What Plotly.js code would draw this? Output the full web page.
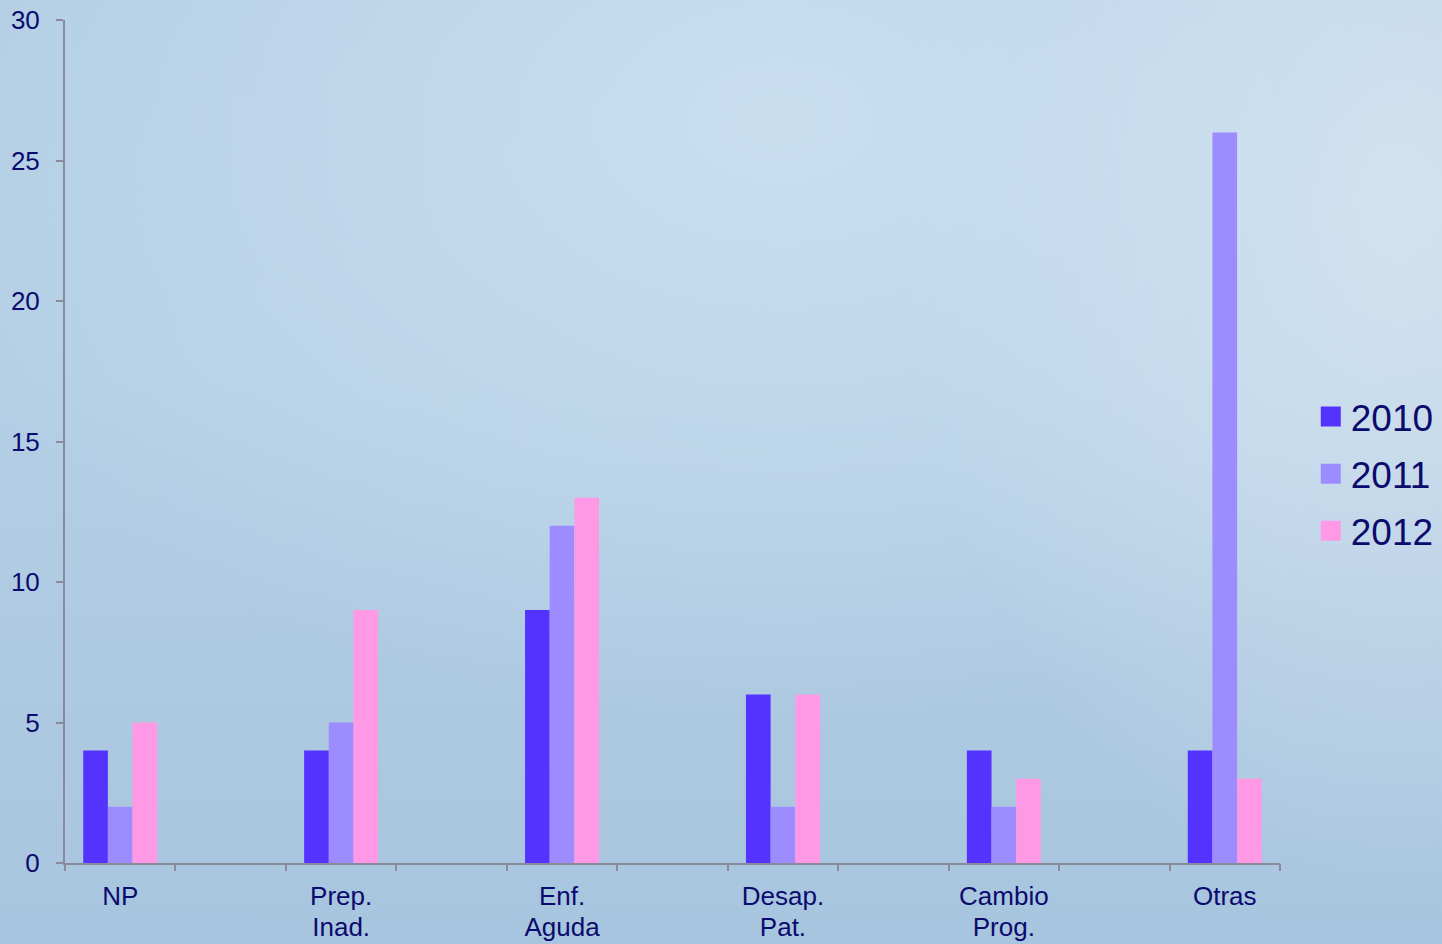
<!DOCTYPE html>
<html>
<head>
<meta charset="utf-8">
<script src="https://cdn.plot.ly/plotly-3.0.1.min.js"></script>
<style>
  html, body { margin: 0; padding: 0; width: 1442px; height: 944px; overflow: hidden; }
  body {
    background:
      radial-gradient(ellipse 900px 600px at 780px 120px, rgba(205,226,242,0.85), rgba(205,226,242,0) 100%),
      radial-gradient(ellipse 500px 700px at 1400px 200px, rgba(215,228,240,0.9), rgba(215,228,240,0) 100%),
      linear-gradient(180deg, #B2CDE4 0%, #B4CFE5 40%, #A8C5DF 100%);
  }
  #chart { width: 1442px; height: 944px; }
</style>
</head>
<body>
<div id="chart"></div>
<script>
const categories = ["NP", "Prep.<br>Inad.", "Enf.<br>Aguda", "Desap.<br>Pat.", "Cambio<br>Prog.", "Otras"];
const seriesNames = ["2010", "2011", "2012"];
const values2010 = [4, 4, 9, 6, 4, 4];
const values2011 = [2, 5, 12, 2, 2, 26];
const values2012 = [5, 9, 13, 6, 3, 3];
const yTicks = [0, 5, 10, 15, 20, 25, 30];

const colors = ["#5533FF", "#9C8CFF", "#FF99E6"];
const textColor = "#0B0B6E";
const axisColor = "#8A8A9C";

const allValues = [values2010, values2011, values2012];
const traces = allValues.map((vals, i) => ({
  type: "bar",
  name: seriesNames[i],
  x: categories,
  y: vals,
  marker: { color: colors[i], line: { width: 0 } },
  legendgroup: "g" + i,
  hoverinfo: "x+y+name"
}));
// empty helper trace so the tick-mark axis (x2) is created
traces.push({
  type: "scatter",
  x: [],
  y: [],
  xaxis: "x2",
  yaxis: "y",
  showlegend: false,
  hoverinfo: "skip"
});

const layout = {
  width: 1442,
  height: 944,
  paper_bgcolor: "rgba(0,0,0,0)",
  plot_bgcolor: "rgba(0,0,0,0)",
  margin: { l: 65, r: 162, t: 20, b: 81 },
  font: { family: "Liberation Sans, Arial, sans-serif", color: textColor, size: 26 },
  barmode: "group",
  bargap: 0.665,
  bargroupgap: 0,
  xaxis: {
    type: "category",
    categoryorder: "array",
    categoryarray: categories,
    range: [-0.25, 5.25],
    showline: true,
    linecolor: axisColor,
    linewidth: 2,
    ticks: "",
    showgrid: false,
    zeroline: false,
    tickfont: { size: 26, color: textColor },
    ticklabelstandoff: 9
  },
  xaxis2: {
    overlaying: "x",
    anchor: "y",
    side: "bottom",
    type: "linear",
    range: [-0.25, 5.25],
    tickmode: "linear",
    tick0: -0.25,
    dtick: 0.5,
    ticks: "outside",
    ticklen: 7,
    tickwidth: 2,
    tickcolor: axisColor,
    showticklabels: false,
    showgrid: false,
    zeroline: false,
    showline: false
  },
  yaxis: {
    range: [0, 30],
    tickmode: "array",
    tickvals: yTicks,
    ticktext: yTicks.map(String),
    ticks: "outside",
    ticklen: 7,
    tickwidth: 2,
    tickcolor: axisColor,
    showline: true,
    linecolor: axisColor,
    linewidth: 2,
    showgrid: false,
    zeroline: false,
    tickfont: { size: 26, color: textColor },
    ticklabelstandoff: 11
  },
  showlegend: true,
  legend: {
    xref: "container",
    yref: "container",
    x: 0.909,
    y: 1 - 386 / 944,
    xanchor: "left",
    yanchor: "top",
    bgcolor: "rgba(0,0,0,0)",
    font: { size: 37, color: textColor },
    traceorder: "grouped",
    tracegroupgap: 6,
    itemclick: false,
    itemdoubleclick: false
  }
};

Plotly.newPlot("chart", traces, layout, { displayModeBar: false, staticPlot: true }).then(() => {
  document.querySelectorAll(".legendpoints path").forEach(p => {
    p.setAttribute("d", "M10,10H-10V-10H10Z");
  });
  // tighter line spacing on two-line category labels (like the original)
  document.querySelectorAll(".xtick text tspan.line").forEach(t => {
    const dy = t.getAttribute("dy");
    if (dy && dy.indexOf("em") >= 0) {
      const v = parseFloat(dy);
      if (v > 0) t.setAttribute("dy", (v * 1.2 / 1.3).toFixed(3) + "em");
    }
  });
});
</script>
</body>
</html>
